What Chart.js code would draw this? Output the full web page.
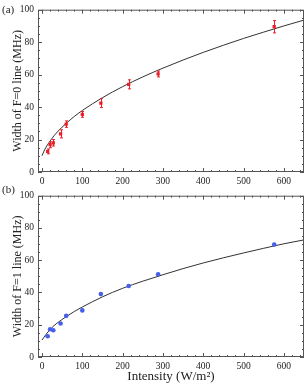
<!DOCTYPE html>
<html>
<head>
<meta charset="utf-8">
<script src="https://cdn.jsdelivr.net/npm/chart.js@4.4.0/dist/chart.umd.min.js"></script>
<style>
  html, body { margin: 0; padding: 0; background: #fff; overflow: hidden; }
  #wrap { position: relative; width: 308px; height: 383px; }
  .panel { position: absolute; left: 0; }
  .tag { position: absolute; left: 2px; font: 11px "Liberation Serif", serif; color: #222; }
</style>
</head>
<body>
<div id="wrap">
  <div class="panel" style="top:0"><canvas id="chartA" width="308" height="186"></canvas></div>
  <div class="panel" style="top:186px"><canvas id="chartB" width="308" height="197"></canvas></div>
  <span class="tag" style="top:3px">(a)</span>
  <span class="tag" style="top:183px">(b)</span>
</div>
<script>
// measured intensities (W/m^2)
var intensity = [14, 20, 28, 46, 60, 100, 146, 215, 288, 576];
// F=0 line widths (MHz) and error bars
var widthF0 = [12.7, 16.8, 18.0, 23.5, 29.5, 35.5, 42.5, 54.0, 60.4, 89.5];
var errF0 = [1.5, 1.8, 2.0, 2.5, 2.0, 1.8, 2.8, 2.8, 1.8, 3.8];
// F=1 line widths (MHz)
var widthF1 = [12.9, 17.2, 16.6, 20.8, 25.5, 28.9, 39.0, 44.0, 51.3, 69.7];

// fitted curves
var fitX = [0, 5, 10, 20, 30, 40, 60, 80, 100, 150, 200, 250, 300, 350, 400, 450, 500, 550, 600, 650];
var fitF0 = [10, 12.9, 15.3, 19.1, 22.4, 25.2, 30, 34.2, 37.9, 45.8, 52.6, 58.6, 64.0, 69.0, 73.7, 78.1, 82.3, 86.2, 90.0, 93.6];
var fitF1 = [10.5, 12.3, 14, 17, 19.5, 21.5, 25, 28.2, 31, 37.3, 42.6, 47, 51, 54.8, 58.3, 61.5, 64.5, 67.4, 70.2, 72.6];

var xTicks = [0, 100, 200, 300, 400, 500, 600];
var yTicks = [0, 20, 40, 60, 80, 100];

var serif = '"Liberation Serif", "Times New Roman", serif';

function pts(xs, ys) {
  var out = [];
  for (var i = 0; i < xs.length; i++) out.push({x: xs[i], y: ys[i]});
  return out;
}

// box frame with inward ticks on all sides
var framePlugin = {
  id: 'frame',
  afterDraw: function(chart) {
    var ctx = chart.ctx, a = chart.chartArea;
    var xs = chart.scales.x, ys = chart.scales.y;
    ctx.save();
    ctx.strokeStyle = '#555';
    ctx.lineWidth = 1;
    ctx.strokeRect(a.left + 0.5, a.top + 0.5, a.right - a.left - 1, a.bottom - a.top - 1);
    ctx.beginPath();
    for (var v = 0; v <= 650; v += 20) {
      var px = Math.round(xs.getPixelForValue(v)) + 0.5;
      var len = v % 100 === 0 ? 4 : 2;
      ctx.moveTo(px, a.bottom); ctx.lineTo(px, a.bottom - len);
      ctx.moveTo(px, a.top); ctx.lineTo(px, a.top + len);
    }
    for (var w = 0; w <= 100; w += 5) {
      var py = Math.round(ys.getPixelForValue(w)) + 0.5;
      var l2 = w % 20 === 0 ? 4 : 2;
      ctx.moveTo(a.left, py); ctx.lineTo(a.left + l2, py);
      ctx.moveTo(a.right, py); ctx.lineTo(a.right - l2, py);
    }
    ctx.stroke();
    ctx.restore();
  }
};

// vertical error bars
var errorPlugin = {
  id: 'errbars',
  afterDatasetsDraw: function(chart) {
    var ctx = chart.ctx, ys = chart.scales.y;
    chart.data.datasets.forEach(function(ds, di) {
      if (!ds.errors) return;
      var meta = chart.getDatasetMeta(di);
      ctx.save();
      ctx.strokeStyle = ds.borderColor;
      ctx.lineWidth = 1;
      meta.data.forEach(function(el, i) {
        var y0 = ys.getPixelForValue(ds.data[i].y - ds.errors[i]);
        var y1 = ys.getPixelForValue(ds.data[i].y + ds.errors[i]);
        var x = Math.round(el.x) + 0.5;
        ctx.beginPath();
        ctx.moveTo(x, y0); ctx.lineTo(x, y1);
        ctx.moveTo(x - 1.5, y0); ctx.lineTo(x + 1.5, y0);
        ctx.moveTo(x - 1.5, y1); ctx.lineTo(x + 1.5, y1);
        ctx.stroke();
      });
      ctx.restore();
    });
  }
};

function makeChart(id, dataY, fitY, errors, color, pointStyle, yTitle, xTitle, xHeight, padTop) {
  var sets = [
    {
      type: 'line',
      data: pts(fitX, fitY),
      borderColor: '#333',
      borderWidth: 1,
      pointRadius: 0,
      cubicInterpolationMode: 'monotone',
      fill: false,
      order: 2
    },
    {
      type: 'scatter',
      data: pts(intensity, dataY),
      borderColor: color,
      backgroundColor: color,
      pointStyle: pointStyle,
      pointRadius: 2.3,
      borderWidth: 0,
      errors: errors,
      order: 1
    }
  ];
  return new Chart(document.getElementById(id), {
    type: 'scatter',
    data: { datasets: sets },
    plugins: [framePlugin, errorPlugin],
    options: {
      responsive: false,
      animation: false,
      layout: { padding: { top: padTop, right: 1, left: 0, bottom: 0 } },
      plugins: { legend: { display: false }, tooltip: { enabled: false } },
      scales: {
        x: {
          type: 'linear', min: -10, max: 650,
          afterBuildTicks: function(s) { s.ticks = xTicks.map(function(v) { return {value: v}; }); },
          afterFit: function(s) { s.height = xHeight; },
          grid: { display: false, drawTicks: false },
          border: { display: false },
          ticks: { color: '#222', padding: 4, maxRotation: 0, font: { family: serif, size: 9.5 } },
          title: xTitle ? { display: true, text: xTitle, color: '#222', padding: 0, font: { family: serif, size: 13, lineHeight: 1 } } : { display: false }
        },
        y: {
          type: 'linear', min: 0, max: 100,
          afterBuildTicks: function(s) { s.ticks = yTicks.map(function(v) { return {value: v}; }); },
          afterFit: function(s) { s.width = 38; },
          grid: { display: false, drawTicks: false },
          border: { display: false },
          ticks: { color: '#222', padding: 4, font: { family: serif, size: 9.5 } },
          title: { display: true, text: yTitle, color: '#222', padding: { top: 11, bottom: 0 }, font: { family: serif, size: 12, lineHeight: 1.1 } }
        }
      }
    }
  });
}

makeChart('chartA', widthF0, fitF0, errF0, 'rgb(235,30,40)', 'rect', 'Width of F=0 line (MHz)', null, 14, 7);
makeChart('chartB', widthF1, fitF1, null, 'rgb(70,95,235)', 'circle', 'Width of F=1 line (MHz)', 'Intensity (W/m\u00b2)', 26, 6);
</script>
</body>
</html>
